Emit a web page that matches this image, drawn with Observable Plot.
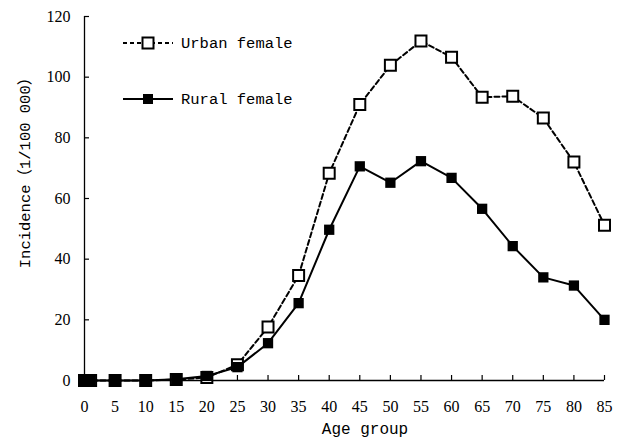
<!DOCTYPE html>
<html><head><meta charset="utf-8">
<script src="https://cdn.jsdelivr.net/npm/d3@7"></script>
<script src="https://cdn.jsdelivr.net/npm/@observablehq/plot@0.6"></script>
<style>body{margin:0;background:#fff}#chart{width:624px;height:442px}</style>
</head><body><div id="chart"></div>
<script>
const ages = [0,1,5,10,15,20,25,30,35,40,45,50,55,60,65,70,75,80,85];
const urban = [0,0,0,0,0.3,1.0,5.2,17.6,34.6,68.3,91.0,103.9,111.9,106.6,93.4,93.7,86.5,72.0,51.2];
const rural = [0,0,0,0,0.4,1.5,4.4,12.3,25.5,49.7,70.6,65.2,72.3,66.8,56.6,44.3,34.0,31.3,20.0];
const xTicks = [0,5,10,15,20,25,30,35,40,45,50,55,60,65,70,75,80,85];
const yTicks = [0,20,40,60,80,100,120];
const seriesNames = ["Urban female", "Rural female"];
const xTitle = "Age group";
const yTitle = "Incidence（1/100 000）";

const urbanData = ages.map((a, i) => ({age: a, value: urban[i]}));
const ruralData = ages.map((a, i) => ({age: a, value: rural[i]}));

const chart = Plot.plot({
  width: 624, height: 442,
  marginLeft: 84, marginRight: 20, marginTop: 16, marginBottom: 62,
  style: {fontFamily: "'Liberation Serif', serif", fontSize: "16px", color: "#000", background: "#fff"},
  x: {domain: [0, 85]},
  y: {domain: [0, 120]},
  marks: [
    Plot.ruleX([0], {stroke: "#000", strokeWidth: 1.3}),
    Plot.ruleY([0], {stroke: "#000", strokeWidth: 1.3}),
    Plot.axisX({ticks: xTicks, tickSize: 5, dy: -5, fill: "none", label: null, strokeWidth: 1.2}),
    Plot.axisX({ticks: xTicks, tickSize: 0, tickPadding: 20, label: null}),
    Plot.axisY({ticks: yTicks, tickSize: 5, dx: 5, fill: "none", label: null, strokeWidth: 1.2}),
    Plot.axisY({ticks: yTicks, tickSize: 0, tickPadding: 14, label: null}),
    Plot.line(urbanData, {x: "age", y: "value", stroke: "#000", strokeWidth: 2, strokeDasharray: "5,3"}),
    Plot.dot(urbanData, {x: "age", y: "value", symbol: "square", r: 6.2, fill: "#fff", stroke: "#000", strokeWidth: 2}),
    Plot.line(ruralData, {x: "age", y: "value", stroke: "#000", strokeWidth: 2}),
    Plot.dot(ruralData, {x: "age", y: "value", symbol: "square", r: 5.8, fill: "#000", stroke: "none"})
  ]
});
document.getElementById("chart").appendChild(chart);

const svg = d3.select(chart);
const mono = "'Liberation Mono', 'Noto Sans CJK SC', monospace";
const lg = svg.append("g").attr("text-anchor", "start");
const rows = [
  {name: seriesNames[0], y: 43, dash: "4,3", fill: "#fff", side: 11, sw: 2},
  {name: seriesNames[1], y: 99, dash: null, fill: "#000", side: 10, sw: 0}
];
rows.forEach(r => {
  lg.append("line").attr("x1", 123).attr("x2", 173).attr("y1", r.y).attr("y2", r.y)
    .attr("stroke", "#000").attr("stroke-width", 2).attr("stroke-dasharray", r.dash);
  lg.append("rect").attr("x", 148 - r.side/2).attr("y", r.y - r.side/2)
    .attr("width", r.side).attr("height", r.side)
    .attr("fill", r.fill).attr("stroke", r.sw ? "#000" : "none").attr("stroke-width", r.sw);
  lg.append("text").attr("x", 181).attr("y", r.y).attr("dy", "0.35em").attr("text-anchor", "start")
    .attr("font-family", mono).attr("font-size", 15.5).attr("fill", "#000").text(r.name);
});
svg.append("text").attr("x", 365).attr("y", 434).attr("text-anchor", "middle")
  .attr("font-family", mono).attr("font-size", 16).attr("fill", "#000").text(xTitle);
svg.append("text").attr("transform", "translate(25,169) rotate(-90)").attr("text-anchor", "middle")
  .attr("dy", "0.35em").attr("font-family", mono).attr("font-size", 15.5).attr("fill", "#000").text(yTitle);
</script></body></html>
